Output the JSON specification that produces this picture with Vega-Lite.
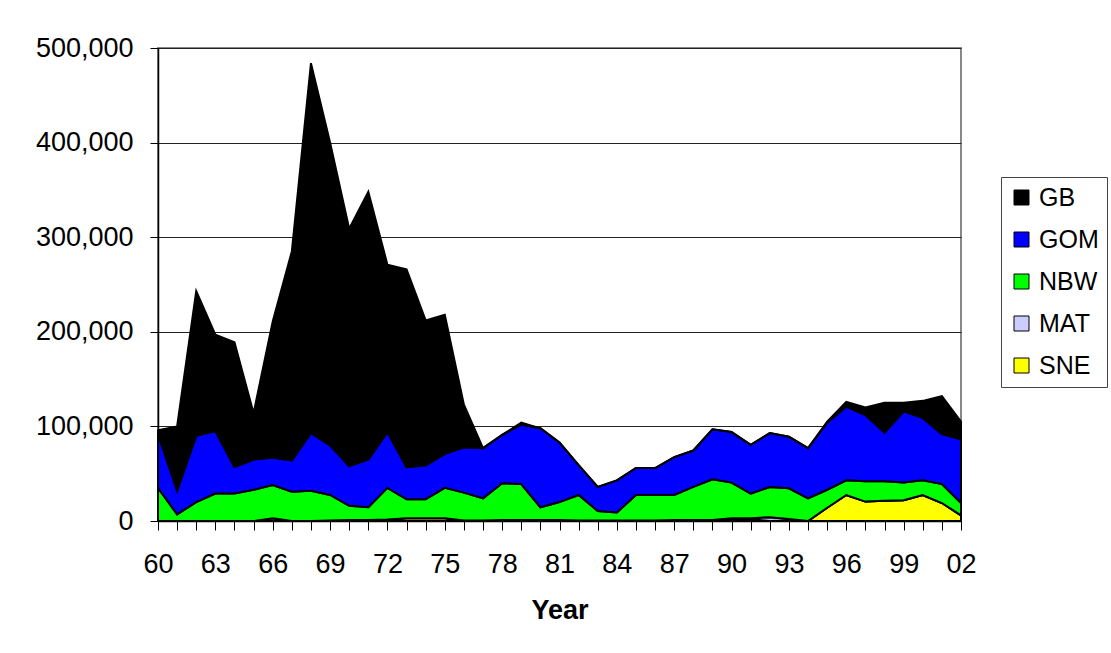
{
  "$schema": "https://vega.github.io/schema/vega-lite/v6.json",
  "width": 803,
  "height": 473,
  "autosize": "none",
  "padding": {"left": 158, "top": 48, "right": 150, "bottom": 132},
  "background": "white",
  "config": {
    "font": "Liberation Sans",
    "view": {"stroke": "#888888", "strokeWidth": 2}
  },
  "data": {
    "values": [
      {"year":1960,"s":"SNE","v":0},{"year":1960,"s":"MAT","v":0},{"year":1960,"s":"NBW","v":35000},{"year":1960,"s":"GOM","v":57000},{"year":1960,"s":"GB","v":4000},
      {"year":1961,"s":"SNE","v":0},{"year":1961,"s":"MAT","v":0},{"year":1961,"s":"NBW","v":7000},{"year":1961,"s":"GOM","v":25000},{"year":1961,"s":"GB","v":68000},
      {"year":1962,"s":"SNE","v":0},{"year":1962,"s":"MAT","v":0},{"year":1962,"s":"NBW","v":20000},{"year":1962,"s":"GOM","v":70000},{"year":1962,"s":"GB","v":153000},
      {"year":1963,"s":"SNE","v":0},{"year":1963,"s":"MAT","v":0},{"year":1963,"s":"NBW","v":29000},{"year":1963,"s":"GOM","v":66000},{"year":1963,"s":"GB","v":102000},
      {"year":1964,"s":"SNE","v":0},{"year":1964,"s":"MAT","v":0},{"year":1964,"s":"NBW","v":29000},{"year":1964,"s":"GOM","v":28000},{"year":1964,"s":"GB","v":132000},
      {"year":1965,"s":"SNE","v":0},{"year":1965,"s":"MAT","v":0},{"year":1965,"s":"NBW","v":33000},{"year":1965,"s":"GOM","v":32000},{"year":1965,"s":"GB","v":49000},
      {"year":1966,"s":"SNE","v":3000},{"year":1966,"s":"MAT","v":0},{"year":1966,"s":"NBW","v":35000},{"year":1966,"s":"GOM","v":29000},{"year":1966,"s":"GB","v":144000},
      {"year":1967,"s":"SNE","v":0},{"year":1967,"s":"MAT","v":0},{"year":1967,"s":"NBW","v":31000},{"year":1967,"s":"GOM","v":33000},{"year":1967,"s":"GB","v":221000},
      {"year":1968,"s":"SNE","v":0},{"year":1968,"s":"MAT","v":0},{"year":1968,"s":"NBW","v":32000},{"year":1968,"s":"GOM","v":61000},{"year":1968,"s":"GB","v":391000},
      {"year":1969,"s":"SNE","v":0},{"year":1969,"s":"MAT","v":500},{"year":1969,"s":"NBW","v":27000},{"year":1969,"s":"GOM","v":52500},{"year":1969,"s":"GB","v":320000},
      {"year":1970,"s":"SNE","v":0},{"year":1970,"s":"MAT","v":1000},{"year":1970,"s":"NBW","v":15000},{"year":1970,"s":"GOM","v":42000},{"year":1970,"s":"GB","v":251000},
      {"year":1971,"s":"SNE","v":0},{"year":1971,"s":"MAT","v":1000},{"year":1971,"s":"NBW","v":13500},{"year":1971,"s":"GOM","v":50500},{"year":1971,"s":"GB","v":283000},
      {"year":1972,"s":"SNE","v":1000},{"year":1972,"s":"MAT","v":500},{"year":1972,"s":"NBW","v":33500},{"year":1972,"s":"GOM","v":59000},{"year":1972,"s":"GB","v":177000},
      {"year":1973,"s":"SNE","v":3000},{"year":1973,"s":"MAT","v":0},{"year":1973,"s":"NBW","v":20000},{"year":1973,"s":"GOM","v":34000},{"year":1973,"s":"GB","v":209000},
      {"year":1974,"s":"SNE","v":3000},{"year":1974,"s":"MAT","v":0},{"year":1974,"s":"NBW","v":20000},{"year":1974,"s":"GOM","v":36000},{"year":1974,"s":"GB","v":153000},
      {"year":1975,"s":"SNE","v":3000},{"year":1975,"s":"MAT","v":0},{"year":1975,"s":"NBW","v":32000},{"year":1975,"s":"GOM","v":36000},{"year":1975,"s":"GB","v":147000},
      {"year":1976,"s":"SNE","v":0},{"year":1976,"s":"MAT","v":500},{"year":1976,"s":"NBW","v":29500},{"year":1976,"s":"GOM","v":48000},{"year":1976,"s":"GB","v":45000},
      {"year":1977,"s":"SNE","v":0},{"year":1977,"s":"MAT","v":500},{"year":1977,"s":"NBW","v":23500},{"year":1977,"s":"GOM","v":53000},{"year":1977,"s":"GB","v":0},
      {"year":1978,"s":"SNE","v":0},{"year":1978,"s":"MAT","v":1000},{"year":1978,"s":"NBW","v":39000},{"year":1978,"s":"GOM","v":51000},{"year":1978,"s":"GB","v":0},
      {"year":1979,"s":"SNE","v":0},{"year":1979,"s":"MAT","v":1000},{"year":1979,"s":"NBW","v":38000},{"year":1979,"s":"GOM","v":63000},{"year":1979,"s":"GB","v":2000},
      {"year":1980,"s":"SNE","v":0},{"year":1980,"s":"MAT","v":1000},{"year":1980,"s":"NBW","v":13500},{"year":1980,"s":"GOM","v":83500},{"year":1980,"s":"GB","v":0},
      {"year":1981,"s":"SNE","v":0},{"year":1981,"s":"MAT","v":1000},{"year":1981,"s":"NBW","v":19000},{"year":1981,"s":"GOM","v":63000},{"year":1981,"s":"GB","v":0},
      {"year":1982,"s":"SNE","v":0},{"year":1982,"s":"MAT","v":500},{"year":1982,"s":"NBW","v":27000},{"year":1982,"s":"GOM","v":31500},{"year":1982,"s":"GB","v":0},
      {"year":1983,"s":"SNE","v":0},{"year":1983,"s":"MAT","v":500},{"year":1983,"s":"NBW","v":10100},{"year":1983,"s":"GOM","v":25400},{"year":1983,"s":"GB","v":0},
      {"year":1984,"s":"SNE","v":0},{"year":1984,"s":"MAT","v":500},{"year":1984,"s":"NBW","v":8500},{"year":1984,"s":"GOM","v":34000},{"year":1984,"s":"GB","v":0},
      {"year":1985,"s":"SNE","v":0},{"year":1985,"s":"MAT","v":500},{"year":1985,"s":"NBW","v":27000},{"year":1985,"s":"GOM","v":28500},{"year":1985,"s":"GB","v":0},
      {"year":1986,"s":"SNE","v":0},{"year":1986,"s":"MAT","v":500},{"year":1986,"s":"NBW","v":27000},{"year":1986,"s":"GOM","v":28500},{"year":1986,"s":"GB","v":0},
      {"year":1987,"s":"SNE","v":0},{"year":1987,"s":"MAT","v":1000},{"year":1987,"s":"NBW","v":26500},{"year":1987,"s":"GOM","v":40000},{"year":1987,"s":"GB","v":0},
      {"year":1988,"s":"SNE","v":0},{"year":1988,"s":"MAT","v":1000},{"year":1988,"s":"NBW","v":35000},{"year":1988,"s":"GOM","v":38500},{"year":1988,"s":"GB","v":0},
      {"year":1989,"s":"SNE","v":0},{"year":1989,"s":"MAT","v":1000},{"year":1989,"s":"NBW","v":43000},{"year":1989,"s":"GOM","v":53000},{"year":1989,"s":"GB","v":0},
      {"year":1990,"s":"SNE","v":1000},{"year":1990,"s":"MAT","v":2000},{"year":1990,"s":"NBW","v":37600},{"year":1990,"s":"GOM","v":53400},{"year":1990,"s":"GB","v":0},
      {"year":1991,"s":"SNE","v":2000},{"year":1991,"s":"MAT","v":1000},{"year":1991,"s":"NBW","v":26000},{"year":1991,"s":"GOM","v":51500},{"year":1991,"s":"GB","v":0},
      {"year":1992,"s":"SNE","v":0},{"year":1992,"s":"MAT","v":4000},{"year":1992,"s":"NBW","v":32000},{"year":1992,"s":"GOM","v":57000},{"year":1992,"s":"GB","v":0},
      {"year":1993,"s":"SNE","v":500},{"year":1993,"s":"MAT","v":1500},{"year":1993,"s":"NBW","v":32600},{"year":1993,"s":"GOM","v":54400},{"year":1993,"s":"GB","v":0},
      {"year":1994,"s":"SNE","v":0},{"year":1994,"s":"MAT","v":0},{"year":1994,"s":"NBW","v":24000},{"year":1994,"s":"GOM","v":53000},{"year":1994,"s":"GB","v":0},
      {"year":1995,"s":"SNE","v":14000},{"year":1995,"s":"MAT","v":0},{"year":1995,"s":"NBW","v":19000},{"year":1995,"s":"GOM","v":71000},{"year":1995,"s":"GB","v":1000},
      {"year":1996,"s":"SNE","v":27500},{"year":1996,"s":"MAT","v":0},{"year":1996,"s":"NBW","v":15500},{"year":1996,"s":"GOM","v":78000},{"year":1996,"s":"GB","v":5000},
      {"year":1997,"s":"SNE","v":20500},{"year":1997,"s":"MAT","v":0},{"year":1997,"s":"NBW","v":21500},{"year":1997,"s":"GOM","v":70000},{"year":1997,"s":"GB","v":8000},
      {"year":1998,"s":"SNE","v":21500},{"year":1998,"s":"MAT","v":0},{"year":1998,"s":"NBW","v":20500},{"year":1998,"s":"GOM","v":51500},{"year":1998,"s":"GB","v":31500},
      {"year":1999,"s":"SNE","v":22000},{"year":1999,"s":"MAT","v":0},{"year":1999,"s":"NBW","v":18600},{"year":1999,"s":"GOM","v":75400},{"year":1999,"s":"GB","v":9000},
      {"year":2000,"s":"SNE","v":27500},{"year":2000,"s":"MAT","v":0},{"year":2000,"s":"NBW","v":15500},{"year":2000,"s":"GOM","v":66000},{"year":2000,"s":"GB","v":18000},
      {"year":2001,"s":"SNE","v":19000},{"year":2001,"s":"MAT","v":0},{"year":2001,"s":"NBW","v":20000},{"year":2001,"s":"GOM","v":53000},{"year":2001,"s":"GB","v":40000},
      {"year":2002,"s":"SNE","v":6000},{"year":2002,"s":"MAT","v":0},{"year":2002,"s":"NBW","v":13000},{"year":2002,"s":"GOM","v":67500},{"year":2002,"s":"GB","v":18500}
    ]
  },
  "transform": [
    {"calculate": "indexof(['SNE','MAT','NBW','GOM','GB'], datum.s)", "as": "stackRank"}
  ],
  "mark": {"type": "area", "stroke": "black", "strokeWidth": 2, "opacity": 1, "strokeJoin": "miter"},
  "encoding": {
    "x": {
      "field": "year",
      "type": "quantitative",
      "scale": {"domain": [1960, 2002], "nice": false, "zero": false},
      "axis": {
        "title": "Year",
        "values": [1960,1961,1962,1963,1964,1965,1966,1967,1968,1969,1970,1971,1972,1973,1974,1975,1976,1977,1978,1979,1980,1981,1982,1983,1984,1985,1986,1987,1988,1989,1990,1991,1992,1993,1994,1995,1996,1997,1998,1999,2000,2001,2002],
        "format": "d",
        "labelExpr": "(datum.value - 1960) % 3 == 0 ? slice(datum.label, 2) : ''",
        "labelFontSize": 27,
        "labelColor": "black",
        "labelPadding": 21,
        "labelOverlap": false,
        "labelFlush": false,
        "tickSize": 9,
        "tickColor": "black",
        "domainColor": "black",
        "domainWidth": 1.5,
        "grid": false,
        "titleFontSize": 27,
        "titleFontWeight": "bold",
        "titleColor": "black",
        "titlePadding": 20
      }
    },
    "y": {
      "field": "v",
      "type": "quantitative",
      "stack": "zero",
      "scale": {"domain": [0, 500000], "nice": false},
      "axis": {
        "title": null,
        "values": [0, 100000, 200000, 300000, 400000, 500000],
        "format": ",d",
        "labelFontSize": 27,
        "labelColor": "black",
        "labelPadding": 17,
        "tickSize": 8,
        "tickColor": "black",
        "domainColor": "black",
        "domainWidth": 1.5,
        "grid": true,
        "gridColor": "#222222",
        "gridWidth": 1
      }
    },
    "color": {
      "field": "s",
      "type": "nominal",
      "scale": {
        "domain": ["GB", "GOM", "NBW", "MAT", "SNE"],
        "range": ["#000000", "#0000FF", "#00FF00", "#CCCCFF", "#FFFF00"]
      },
      "legend": {
        "title": null,
        "orient": "none",
        "legendX": 843,
        "legendY": 129,
        "symbolType": "square",
        "symbolSize": 225,
        "symbolStrokeColor": "black",
        "symbolStrokeWidth": 1,
        "symbolOpacity": 1,
        "labelFontSize": 25,
        "labelColor": "black",
        "labelOffset": 5,
        "strokeColor": "#444444",
        "fillColor": "white",
        "padding": 8,
        "rowPadding": 16
      }
    },
    "order": {"field": "stackRank", "type": "quantitative"}
  }
}
